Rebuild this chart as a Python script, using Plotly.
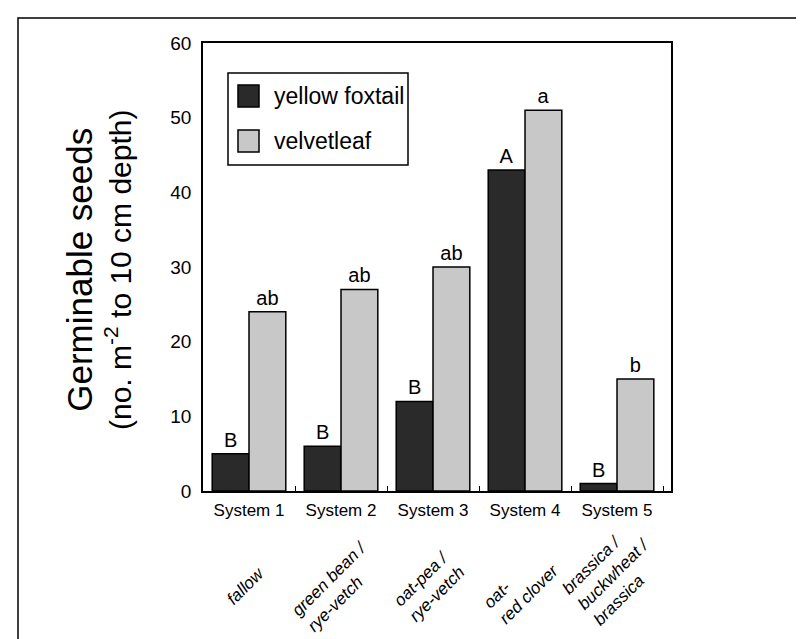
import plotly.graph_objects as go

systems = ["System 1", "System 2", "System 3", "System 4", "System 5"]
rotations = ["fallow", "green bean /<br>rye-vetch", "oat-pea /<br>rye-vetch", "oat-<br>red clover",
             "brassica /<br>buckwheat /<br>brassica"]
foxtail = [5, 6, 12, 43, 1]
velvetleaf = [24, 27, 30, 51, 15]
foxtail_letters = ["B", "B", "B", "A", "B"]
velvet_letters = ["ab", "ab", "ab", "a", "b"]
series_names = ["yellow foxtail", "velvetleaf"]
series_colors = ["#2a2a2a", "#c8c8c8"]
y_ticks = [0, 10, 20, 30, 40, 50, 60]

# label placement tweaks (style only)
rot_yshift = [0, 0, 0, 0, 12]

FONT = "Liberation Sans, Arial, Helvetica, sans-serif"
W, H = 804, 639
L, R, T, B = 195, 804 - 663, 35, 639 - 483
pw, ph = W - L - R, H - T - B

def px(x):
    return (x - L) / pw

def py(y):
    return (H - B - y) / ph

fig = go.Figure()
for name, vals, letters, col in zip(series_names, [foxtail, velvetleaf],
                                    [foxtail_letters, velvet_letters], series_colors):
    fig.add_trace(go.Bar(
        x=systems, y=vals, name=name, text=letters, textposition="outside",
        textfont=dict(family=FONT, size=20, color="black"),
        marker=dict(color=col, line=dict(color="black", width=1.5)),
        cliponaxis=False, showlegend=False,
    ))

shapes = [
    dict(type="rect", xref="paper", yref="paper", x0=px(10), x1=px(802), y0=py(660), y1=py(10),
         line=dict(color="black", width=1.5), fillcolor="rgba(0,0,0,0)", layer="below"),
    dict(type="rect", xref="paper", yref="paper", x0=px(220), x1=px(400), y0=py(157), y1=py(65),
         line=dict(color="black", width=1.5), fillcolor="white"),
]
annotations = []
for i, (name, col) in enumerate(zip(series_names, series_colors)):
    yc = 88 + i * 45
    shapes.append(dict(type="rect", xref="paper", yref="paper", x0=px(230), x1=px(251),
                       y0=py(yc + 11), y1=py(yc - 11), fillcolor=col,
                       line=dict(color="black", width=1.5)))
    annotations.append(dict(x=px(264), y=py(yc), xref="paper", yref="paper", text=name,
                            showarrow=False, xanchor="left", yanchor="middle",
                            font=dict(family=FONT, size=23, color="black")))

annotations.append(dict(x=px(90), y=py(262), xref="paper", yref="paper",
                        text="<span style='font-size:35px'>Germinable seeds</span><br>"
                             "(no. m<sup>-2</sup> to 10 cm depth)",
                        textangle=-90, showarrow=False, xanchor="center", yanchor="middle",
                        font=dict(family=FONT, size=30, color="black")))

for s, r, ys in zip(systems, rotations, rot_yshift):
    annotations.append(dict(x=s, y=py(578), xref="x", yref="paper", text="<i>" + r + "</i>",
                            textangle=-45, showarrow=False, xanchor="center", yanchor="middle",
                            xshift=-4, yshift=ys, align="left",
                            font=dict(family=FONT, size=17, color="black")))

fig.update_layout(
    width=W, height=H, margin=dict(l=L, r=R, t=T, b=B, autoexpand=False),
    plot_bgcolor="white", paper_bgcolor="white",
    barmode="group", bargap=0.2, bargroupgap=0,
    font=dict(family=FONT, size=18, color="black"),
    shapes=shapes, annotations=annotations,
    xaxis=dict(showline=True, linecolor="black", linewidth=1.5, mirror=True,
               tickson="boundaries", ticks="inside", ticklen=5, tickcolor="black",
               ticklabelstandoff=3,
               tickfont=dict(family=FONT, size=17), showgrid=False),
    yaxis=dict(range=[0, 60], tickvals=y_ticks, showline=True, linecolor="black", linewidth=1.5,
               mirror=True, ticks="", showgrid=False, zeroline=False, ticklabelstandoff=6,
               tickfont=dict(family=FONT, size=19)),
)
fig.write_html("out.html")
